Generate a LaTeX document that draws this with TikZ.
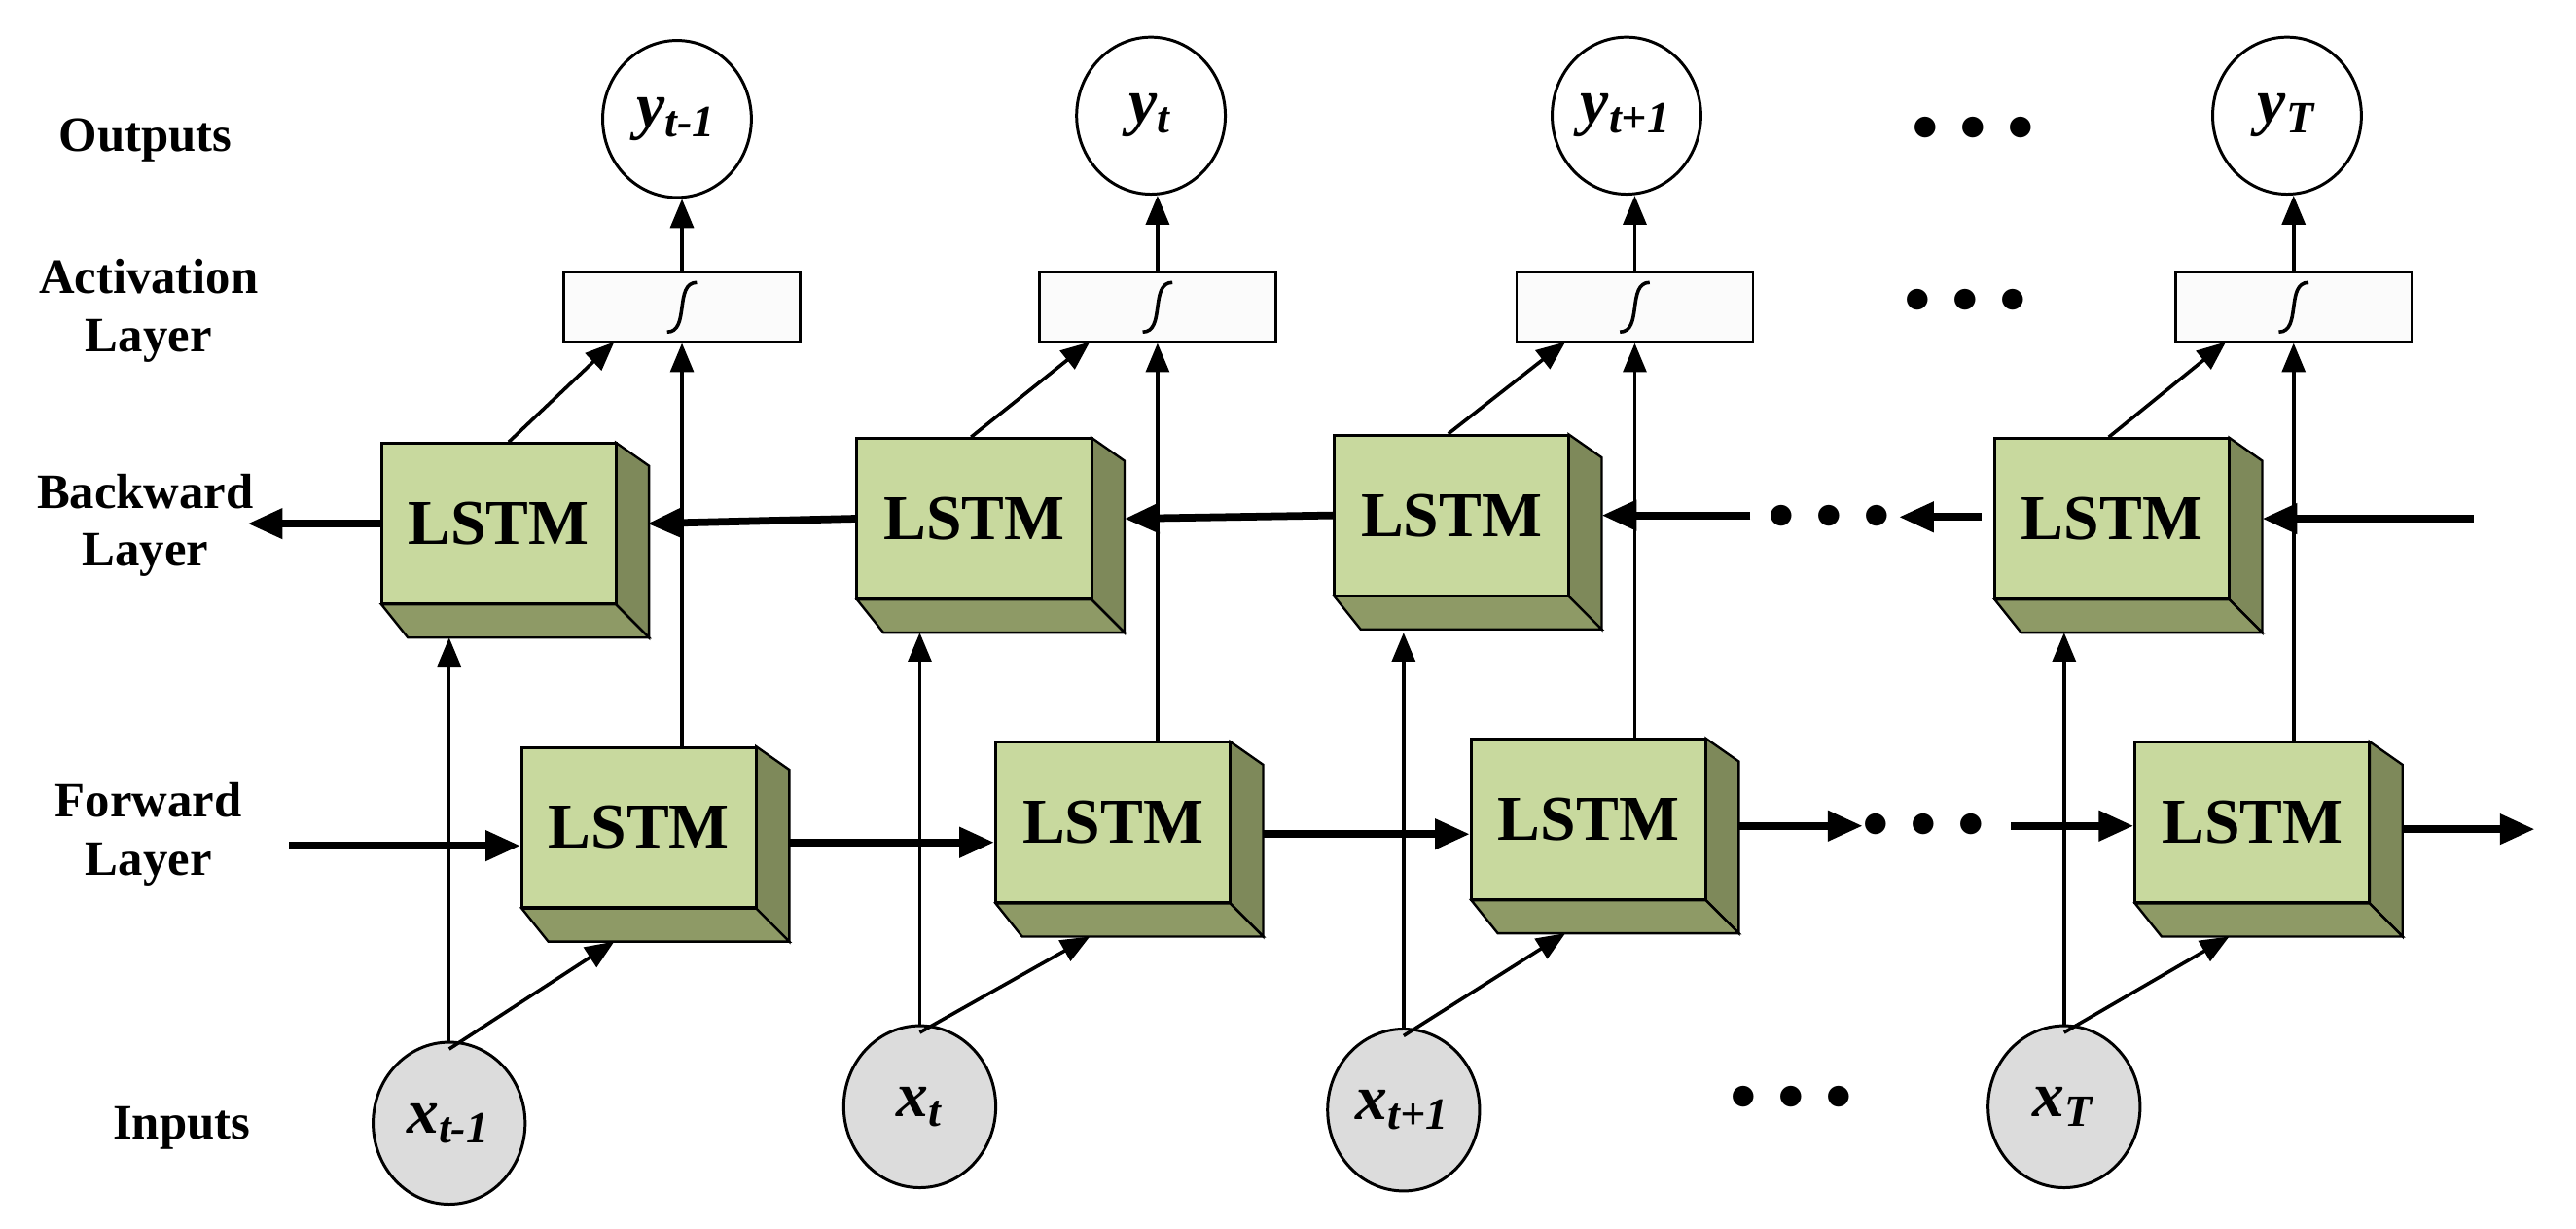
\documentclass[tikz,border=0pt]{standalone}
\usepackage{fontspec}
\setmainfont{Liberation Serif}
\usetikzlibrary{arrows.meta,shapes.geometric}
\definecolor{gfront}{HTML}{C8D99E}
\definecolor{gside}{HTML}{7E895A}
\definecolor{gbot}{HTML}{8E9A66}
\definecolor{incol}{HTML}{DCDCDC}
\tikzset{
 lbl/.style={font=\fontsize{8.5}{10}\selectfont\bfseries,align=center},
 front/.style={draw,fill=gfront,line width=0.5pt,minimum width=1.42cm,minimum height=0.97cm,font=\fontsize{11}{12}\selectfont\bfseries,inner sep=0pt},
 act/.style={draw,fill=white!97!gray,minimum width=1.43cm,minimum height=0.42cm,inner sep=0pt,line width=0.4pt},
 outc/.style={draw,ellipse,fill=white,minimum width=0.9cm,minimum height=0.95cm,inner sep=0pt,font=\fontsize{11}{12}\selectfont\bfseries\itshape,line width=0.5pt},
 inc/.style={draw,ellipse,fill=incol,minimum width=0.92cm,minimum height=0.98cm,inner sep=0pt,font=\fontsize{11}{12}\selectfont\bfseries\itshape,line width=0.5pt},
 thin/.style={line width=0.6pt,-{Triangle[length=5pt,width=4pt]}},
 thick/.style={line width=1.3pt,-{Triangle[length=6pt,width=5pt]}},
 dots/.style={font=\fontsize{9}{10}\selectfont\bfseries},
}
\newcommand\lbox[4]{% name, x, y (front center), 
 \fill[gside,draw=black,line width=0.4pt] (#2+71,#3-49) -- (#2+91,#3-35) -- (#2+91,#3+69) -- (#2+71,#3+49) -- cycle;
 \fill[gbot,draw=black,line width=0.4pt] (#2-71,#3+49) -- (#2-55,#3+69) -- (#2+91,#3+69) -- (#2+71,#3+49) -- cycle;
 \node[front] (#1) at (#2,#3) {LSTM};
}
\newcommand\sig[1]{\draw[line width=0.6pt] ([xshift=-0.09cm,yshift=-0.15cm]#1.center) .. controls ([xshift=0.05cm,yshift=-0.15cm]#1.center) and ([xshift=-0.05cm,yshift=0.15cm]#1.center) .. ([xshift=0.09cm,yshift=0.15cm]#1.center);}
\begin{document}
\begin{tikzpicture}[x=0.01cm,y=-0.01cm]
\useasboundingbox (0,0) rectangle (1560,744);
% labels
\node[lbl] at (88,85) {Outputs};
\node[lbl] at (90,188) {Activation\\Layer};
\node[lbl] at (88,318) {Backward\\Layer};
\node[lbl] at (90,505) {Forward\\Layer};
\node[lbl] at (110,683) {Inputs};
% boxes
\lbox{b1}{302}{317}{}\lbox{b2}{590}{314}{}\lbox{b3}{879}{312}{}\lbox{b4}{1279}{314}{}
\lbox{f1}{387}{501}{}\lbox{f2}{674}{498}{}\lbox{f3}{962}{496}{}\lbox{f4}{1364}{498}{}
% activation
\foreach \n/\x in {a1/413,a2/701,a3/990,a4/1389}{\node[act] (\n) at (\x,186) {}; \sig{\n}}
% outputs
\node[outc] (y1) at (410,72) {y\textsubscript{t-1}};
\node[outc] (y2) at (697,70) {y\textsubscript{t}};
\node[outc] (y3) at (985,70) {y\textsubscript{t+1}};
\node[outc] (y4) at (1385,70) {y\textsubscript{T}};
% inputs
\node[inc] (x1) at (272,680) {x\textsubscript{t-1}};
\node[inc] (x2) at (557,670) {x\textsubscript{t}};
\node[inc] (x3) at (850,672) {x\textsubscript{t+1}};
\node[inc] (x4) at (1250,670) {x\textsubscript{T}};
% dots
\node[dots] at (1195,78) {$\bullet\,\bullet\,\bullet$};
\node[dots] at (1190,182) {$\bullet\,\bullet\,\bullet$};
\node[dots] at (1108,313) {$\bullet\,\bullet\,\bullet$};
\node[dots] at (1165,500) {$\bullet\,\bullet\,\bullet$};
\node[dots] at (1085,665) {$\bullet\,\bullet\,\bullet$};
\foreach \i/\x in {1/413,2/701,3/990,4/1389}{
 \draw[thin] (\x,{\i==1?452:(\i==2?449:(\i==3?447:449))}) -- (a\i.south -| \x,0);
 \draw[thin] (a\i.north -| \x,0) -- (y\i.south -| \x,0);
}
% input arrows
\foreach \i/\x in {1/272,2/557,3/850,4/1250}{
 \draw[thin] (x\i.north -| \x,0) -- (\x,{\i==1?386:383});
}
\draw[thin] (x1.north) ++(0,5) -- (372,570);
\draw[thin] (x2.north) ++(0,5) -- (660,567);
\draw[thin] (x3.north) ++(0,5) -- (948,565);
\draw[thin] (x4.north) ++(0,5) -- (1350,567);
% backward to activation
\draw[thin] (b1.north west) ++(78,0) -- (372,207);
\draw[thin] (b2.north west) ++(70,0) -- (660,207);
\draw[thin] (b3.north west) ++(70,0) -- (948,207);
\draw[thin] (b4.north west) ++(70,0) -- (1348,207);
% backward horizontals
\draw[thick] (b1.west) -- (150,317);
\draw[thick] (b2.west) -- (392,317);
\draw[thick] (b3.west) -- (681,314);
\draw[thick] (1060,312) -- (970,312);
\draw[thick] (1200,313) -- (1150,313);
\draw[thick] (1498,314) -- (1370,314);
% forward horizontals
\draw[thick] (175,512) -- (f1.west |- 0,512);
\draw[thick] (478,510) -- (f2.west |- 0,510);
\draw[thick] (765,505) -- (f3.west |- 0,505);
\draw[thick] (1053,500) -- (1128,500);
\draw[thick] (1218,500) -- (f4.west |- 0,500);
\draw[thick] (1455,502) -- (1535,502);
\end{tikzpicture}
\end{document}
